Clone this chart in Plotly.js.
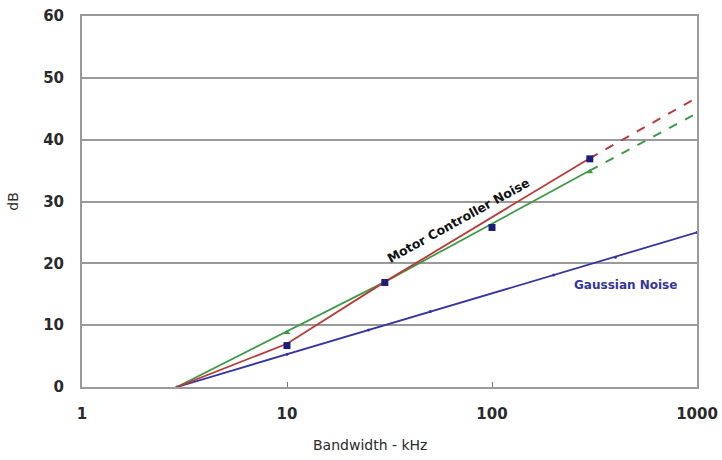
<!DOCTYPE html>
<html><head><meta charset="utf-8">
<script src="https://cdn.plot.ly/plotly-3.0.1.min.js"></script>
<style>html,body{margin:0;padding:0;background:#fff}#chart{width:722px;height:460px}</style>
</head><body><div id="chart"></div>
<script>
// Data
const motorFitX = [2.9, 10, 30, 300];
const motorFitY = [0, 7, 17, 37];
const motorExtX = [300, 1000];
const motorExtY = [37, 46.8];
const greenFitX = [2.9, 10, 30, 300];
const greenFitY = [0, 9, 17, 35];
const greenExtX = [300, 1000];
const greenExtY = [35, 44.3];
const motorPtsX = [10, 30, 100, 300];
const motorPtsY = [6.7, 16.9, 25.8, 36.9];
const greenPtsX = [10, 30, 300];
const greenPtsY = [8.8, 17, 34.8];
const gaussX = [2.9, 10, 25, 50, 200, 400, 1000];
const gaussY = [0, 5.3, 9.2, 12.2, 18.1, 21.0, 25];
const xTickVals = [1, 10, 100, 1000];
const xTickText = ['1', '10', '100', '1000'];

const red = '#b83a3a', green = '#3f9a45', blue = '#3535a0', navy = '#1c1c7a';
const traces = [
  {x: gaussX, y: gaussY, mode: 'lines+markers', line: {color: blue, width: 1.8}, marker: {color: blue, size: 3}},
  {x: greenFitX, y: greenFitY, mode: 'lines', line: {color: green, width: 1.8}},
  {x: greenExtX, y: greenExtY, mode: 'lines', line: {color: green, width: 2, dash: 'dash'}},
  {x: motorFitX, y: motorFitY, mode: 'lines', line: {color: red, width: 1.8}},
  {x: motorExtX, y: motorExtY, mode: 'lines', line: {color: red, width: 2, dash: 'dash'}},
  {x: greenPtsX, y: greenPtsY, mode: 'markers', marker: {color: green, size: 6, symbol: 'triangle-up'}},
  {x: motorPtsX, y: motorPtsY, mode: 'markers', marker: {color: navy, size: 7, symbol: 'square'}}
];
const F = 'DejaVu Sans, Verdana, sans-serif';
const tickFont = {family: F, size: 15, color: '#2a2a2a', weight: 'bold'};
const layout = {
  width: 722, height: 460,
  margin: {l: 82, r: 25, t: 16, b: 73},
  showlegend: false,
  paper_bgcolor: '#fff', plot_bgcolor: '#fff',
  xaxis: {
    type: 'log', range: [0, 3], tickvals: xTickVals, ticktext: xTickText,
    showgrid: false, zeroline: false, showline: true, linecolor: '#9a9a9a', linewidth: 2, mirror: true,
    ticks: 'inside', ticklen: 5, tickcolor: '#777', tickwidth: 1,
    tickfont: tickFont, ticklabelstandoff: 12
  },
  yaxis: {
    range: [0, 60], dtick: 10, showgrid: true, gridcolor: '#9a9a9a', gridwidth: 2,
    zeroline: false, showline: true, linecolor: '#9a9a9a', linewidth: 2, mirror: true,
    ticks: '', tickfont: tickFont, ticklabelstandoff: 13,
    title: {text: 'dB', font: {family: F, size: 14, color: '#2a2a2a'}, standoff: 21}
  },
  annotations: [
    {xref: 'paper', yref: 'paper', x: (370 - 82) / 615, y: 0, yshift: -58, xanchor: 'center', yanchor: 'middle',
     text: 'Bandwidth - kHz', showarrow: false, font: {family: F, size: 14, color: '#2a2a2a'}},
    {xref: 'x', yref: 'y', x: 1.834, y: 27.0, text: 'Motor Controller Noise', showarrow: false, textangle: -29,
     font: {family: F, size: 12.5, color: '#111', weight: 'bold'}},
    {xref: 'x', yref: 'y', x: 2.649, y: 16.5, text: 'Gaussian Noise', showarrow: false,
     font: {family: F, size: 12, color: blue, weight: 'bold'}}
  ]
};
Plotly.newPlot('chart', traces, layout, {displayModeBar: false, staticPlot: true});
</script></body></html>
